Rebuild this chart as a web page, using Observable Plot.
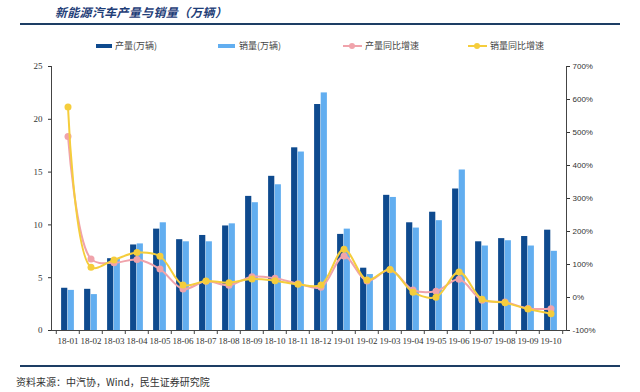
<!DOCTYPE html>
<html><head><meta charset="utf-8">
<script src="https://cdn.jsdelivr.net/npm/d3@7"></script>
<script src="https://cdn.jsdelivr.net/npm/@observablehq/plot@0.6"></script>
<style>
body{margin:0;background:#fff;width:640px;height:392px;position:relative;overflow:hidden;font-family:"Noto Sans CJK SC",sans-serif}
#title{position:absolute;left:55px;top:3px;font-size:12px;font-weight:bold;font-style:italic;color:#1f3e78;letter-spacing:0.3px}
.hr{position:absolute;left:20px;width:600px;height:2px;background:#1d3d64}
.lg{position:absolute;top:40px;font-size:9px;color:#444;line-height:12px;white-space:nowrap}
.sw{position:absolute;top:44px;height:4px}
.ln{position:absolute;top:45px;height:2px;width:19px}
.ld{position:absolute;top:43px;width:6px;height:6px;border-radius:3px}
#chart{position:absolute;left:0;top:56px}
#caption{position:absolute;left:16px;top:374px;font-size:10px;color:#333}
</style></head>
<body>
<div id="title">新能源汽车产量与销量（万辆）</div>
<div class="hr" style="top:23px"></div>
<div class="sw" style="left:96px;width:16px;background:#0e4a8e"></div><div class="lg" style="left:115px">产量(万辆)</div>
<div class="sw" style="left:218px;width:17px;background:#62aef0"></div><div class="lg" style="left:239px">销量(万辆)</div>
<div class="ln" style="left:343px;background:#f0a3ab"></div><div class="ld" style="left:349px;background:#f0a3ab"></div><div class="lg" style="left:365px">产量同比增速</div>
<div class="ln" style="left:468px;background:#f5cd3c"></div><div class="ld" style="left:474px;background:#f5cd3c"></div><div class="lg" style="left:490px">销量同比增速</div>
<div id="chart"></div>
<div class="hr" style="top:365px"></div>
<div id="caption">资料来源：中汽协，Wind，民生证券研究院</div>
<script>
const months = ["18-01","18-02","18-03","18-04","18-05","18-06","18-07","18-08","18-09","18-10","18-11","18-12","19-01","19-02","19-03","19-04","19-05","19-06","19-07","19-08","19-09","19-10"];
const production = [4.0,3.9,6.8,8.1,9.6,8.6,9.0,9.9,12.7,14.6,17.3,21.4,9.1,5.9,12.8,10.2,11.2,13.4,8.4,8.7,8.9,9.5];
const sales = [3.8,3.4,6.8,8.2,10.2,8.4,8.4,10.1,12.1,13.8,16.9,22.5,9.6,5.3,12.6,9.7,10.4,15.2,8.0,8.5,8.0,7.5];
const prodGrowth = [488,117,105,115,86,26,49,37,63,58,42,31,126,50,84,23,19,55,-8,-14,-33,-34];
const salesGrowth = [577,92,114,136,125,38,50,45,56,51,40,38,146,53,85,16,1,77,-5,-16,-35,-49];
const leftTicks = [0,5,10,15,20,25];
const rightTicks = [-100,0,100,200,300,400,500,600,700];

const toLeft = r => (r + 100) / 800 * 25;
const toRight = v => Math.round(v / 25 * 800 - 100);

const W = 640, H = 296, mL = 51, mR = 74, mT = 10, mB = 22;
const step = (W - mL - mR) / months.length;
const barW = 6.6;

const prodPts = months.map((m, i) => ({m, v: toLeft(prodGrowth[i])}));
const salesPts = months.map((m, i) => ({m, v: toLeft(salesGrowth[i])}));
const prodBars = months.map((m, i) => ({m, v: production[i]}));
const salesBars = months.map((m, i) => ({m, v: sales[i]}));

const serif = "Liberation Serif, Times New Roman, serif";
const chart = Plot.plot({
  width: W, height: H,
  marginLeft: mL, marginRight: mR, marginTop: mT, marginBottom: mB,
  style: {background: "transparent", color: "#333"},
  x: {type: "band", domain: months, padding: 0},
  y: {domain: [0, 25]},
  marks: [
    Plot.barY(prodBars, {x: "m", y: "v", fill: "#0e4a8e", insetLeft: step/2 - barW, insetRight: step/2}),
    Plot.barY(salesBars, {x: "m", y: "v", fill: "#62aef0", insetLeft: step/2, insetRight: step/2 - barW}),
    Plot.line(prodPts, {x: "m", y: "v", stroke: "#f0a3ab", strokeWidth: 2, curve: "catmull-rom"}),
    Plot.dot(prodPts, {x: "m", y: "v", fill: "#f0a3ab", r: 3.5}),
    Plot.line(salesPts, {x: "m", y: "v", stroke: "#f5cd3c", strokeWidth: 2, curve: "catmull-rom"}),
    Plot.dot(salesPts, {x: "m", y: "v", fill: "#f5cd3c", r: 3.5}),
    Plot.ruleY([0], {stroke: "#444"}),
    Plot.frame({anchor: "left", stroke: "#444"}),
    Plot.frame({anchor: "right", stroke: "#444"}),
    Plot.ruleX(months, {x: d => d, y1: 0, y2: 0, insetBottom: -4, dx: -step/2, stroke: "#444"}),
    Plot.ruleX([months[months.length-1]], {x: d => d, y1: 0, y2: 0, insetBottom: -4, dx: step/2, stroke: "#444"}),
    Plot.axisY(leftTicks, {anchor: "left", tickSize: 3, tickPadding: 6, fontSize: 9, fontFamily: serif, label: null}),
    Plot.axisY(rightTicks.map(toLeft), {anchor: "right", tickSize: 3, tickPadding: 3, fontSize: 8, fontFamily: "Liberation Sans, Arial, sans-serif", tickFormat: v => toRight(v) + "%", label: null}),
    Plot.axisX({tickSize: 0, tickPadding: 7, fontSize: 9, fontFamily: serif, label: null})
  ]
});
document.getElementById("chart").appendChild(chart);
</script>
</body></html>
